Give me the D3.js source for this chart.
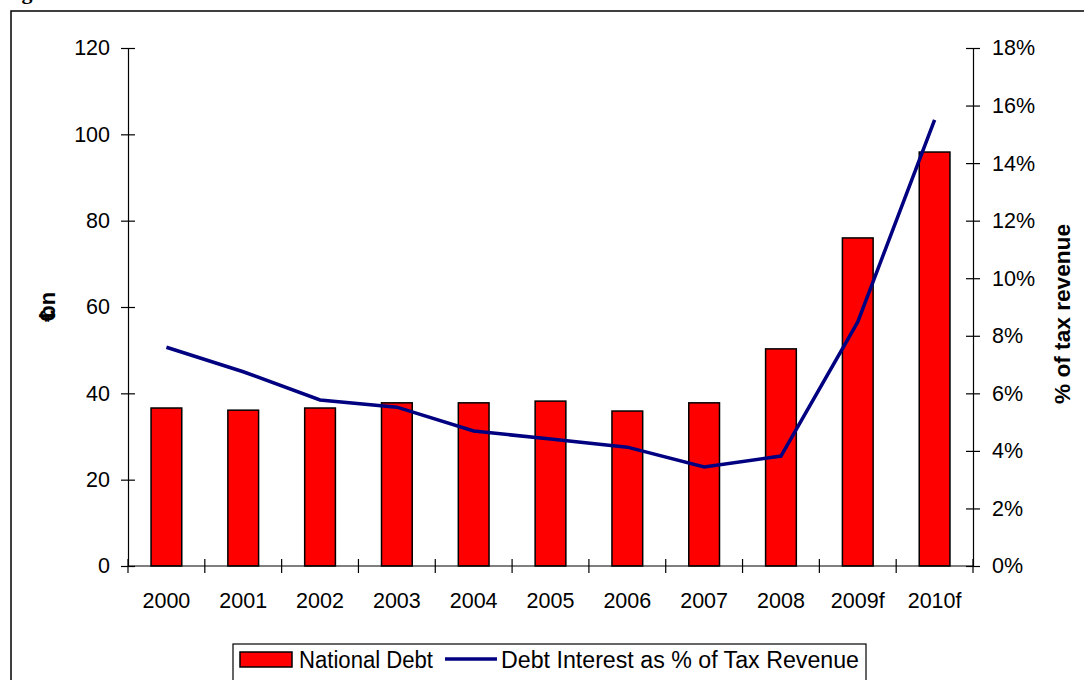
<!DOCTYPE html>
<meta charset="utf-8">
<style>
body { margin: 0; background: #fff; }
text { font-family: 'Liberation Sans', Arial, sans-serif; fill: #000; }
.tick text { font-size: 21.5px; }
.axis path, .axis line { stroke: #000; stroke-width: 1.2px; }
.title { font-size: 22px; font-weight: bold; }
.legendLabel { font-size: 23px; }
</style>
<body>
<script src="https://d3js.org/d3.v7.min.js"></script>
<script>

const years = ["2000", "2001", "2002", "2003", "2004", "2005", "2006", "2007", "2008", "2009f", "2010f"];
const debt = [36.6, 36.1, 36.6, 37.8, 37.8, 38.2, 35.9, 37.8, 50.3, 76.0, 95.9];
const interestPct = [7.6, 6.75, 5.77, 5.52, 4.69, 4.41, 4.13, 3.44, 3.82, 8.48, 15.5];
const leftTicks = [0, 20, 40, 60, 80, 100, 120];
const rightTicks = [0, 2, 4, 6, 8, 10, 12, 14, 16, 18];

const width = 1084, height = 680,
      plotLeft = 128, plotRight = 973, plotTop = 48, plotBottom = 566;

let svg = d3.select("body").append("svg")
            .attr("width", width)
            .attr("height", height);

// outer frame, runs off the picture on the right and bottom
svg.append("rect")
    .attr("x", 11).attr("y", 11)
    .attr("width", width + 20).attr("height", height + 20)
    .attr("fill", "none").attr("stroke", "#000").attr("stroke-width", 1.5);

// heading above the frame, mostly cropped away in the source
svg.append("text")
    .attr("x", 2).attr("y", -1)
    .style("font-family", "'Liberation Serif', serif")
    .style("font-weight", "bold").style("font-size", "22px")
    .text("Figure");

let x = d3.scaleBand().domain(years).range([plotLeft, plotRight]),
    y = d3.scaleLinear().domain([0, 120]).range([plotBottom, plotTop]),
    y2 = d3.scaleLinear().domain([0, 18]).range([plotBottom, plotTop]);

// bars
svg.append("g")
  .selectAll("rect")
  .data(years)
  .join("rect")
    .attr("x", d => x(d) + x.bandwidth() * 0.3)
    .attr("width", x.bandwidth() * 0.4)
    .attr("y", (d, i) => y(debt[i]))
    .attr("height", (d, i) => y(0) - y(debt[i]))
    .attr("fill", "#ff0000")
    .attr("stroke", "#000")
    .attr("stroke-width", 1.5);

// left axis
let gl = svg.append("g").attr("class", "axis")
    .attr("transform", `translate(${plotLeft},0)`)
    .call(d3.axisLeft(y).tickValues(leftTicks).tickSize(7).tickPadding(11).tickSizeOuter(0));
gl.selectAll(".tick line").attr("x2", -7).attr("x1", 7);

// right axis
let gr = svg.append("g").attr("class", "axis")
    .attr("transform", `translate(${plotRight},0)`)
    .call(d3.axisRight(y2).tickValues(rightTicks).tickFormat(d => d + "%").tickSize(7).tickPadding(12).tickSizeOuter(0));
gr.selectAll(".tick line").attr("x1", -7).attr("x2", 7);

// bottom axis, ticks between categories
let gb = svg.append("g").attr("class", "axis")
    .attr("transform", `translate(0,${plotBottom})`);
gb.append("line").attr("x1", plotLeft).attr("x2", plotRight).attr("stroke", "#000").attr("stroke-width", 1.2);
gb.selectAll("line.sep")
  .data(years.concat(["end"]))
  .join("line")
    .attr("class", "sep")
    .attr("x1", (d, i) => plotLeft + i * x.step())
    .attr("x2", (d, i) => plotLeft + i * x.step())
    .attr("y1", -7).attr("y2", 7)
    .attr("stroke", "#000").attr("stroke-width", 1.2);
gb.selectAll("text")
  .data(years)
  .join("text")
    .attr("x", d => x(d) + x.bandwidth() / 2)
    .attr("y", 42)
    .attr("text-anchor", "middle")
    .style("font-size", "21.5px")
    .text(d => d);

// line
svg.append("path")
    .datum(interestPct)
    .attr("fill", "none")
    .attr("stroke", "#000080")
    .attr("stroke-width", 3.5)
    .attr("d", d3.line()
        .x((d, i) => x(years[i]) + x.bandwidth() / 2)
        .y(d => y2(d)));

// axis titles
let lt = svg.append("text")
    .attr("class", "title")
    .attr("transform", "translate(55,307) rotate(-90)")
    .attr("text-anchor", "middle");
lt.append("tspan").text("€");
lt.append("tspan").attr("dx", -9).text("bn");

svg.append("text")
    .attr("class", "title")
    .attr("transform", "translate(1070,314) rotate(-90)")
    .attr("text-anchor", "middle")
    .attr("textLength", 180)
    .attr("lengthAdjust", "spacingAndGlyphs")
    .text("% of tax revenue");

// legend
let lg = svg.append("g");
lg.append("rect")
    .attr("x", 233).attr("y", 644)
    .attr("width", 633).attr("height", 60)
    .attr("fill", "#fff").attr("stroke", "#000").attr("stroke-width", 1.2);
lg.append("rect")
    .attr("x", 240).attr("y", 652)
    .attr("width", 52).attr("height", 15)
    .attr("fill", "#ff0000").attr("stroke", "#000").attr("stroke-width", 1.5);
lg.append("text")
    .attr("class", "legendLabel")
    .attr("x", 299).attr("y", 668)
    .attr("textLength", 134)
    .attr("lengthAdjust", "spacingAndGlyphs")
    .text("National Debt");
lg.append("line")
    .attr("x1", 445).attr("x2", 497).attr("y1", 659).attr("y2", 659)
    .attr("stroke", "#000080").attr("stroke-width", 3.5);
lg.append("text")
    .attr("class", "legendLabel")
    .attr("x", 501).attr("y", 668)
    .attr("textLength", 358)
    .attr("lengthAdjust", "spacingAndGlyphs")
    .text("Debt Interest as % of Tax Revenue");

</script>
